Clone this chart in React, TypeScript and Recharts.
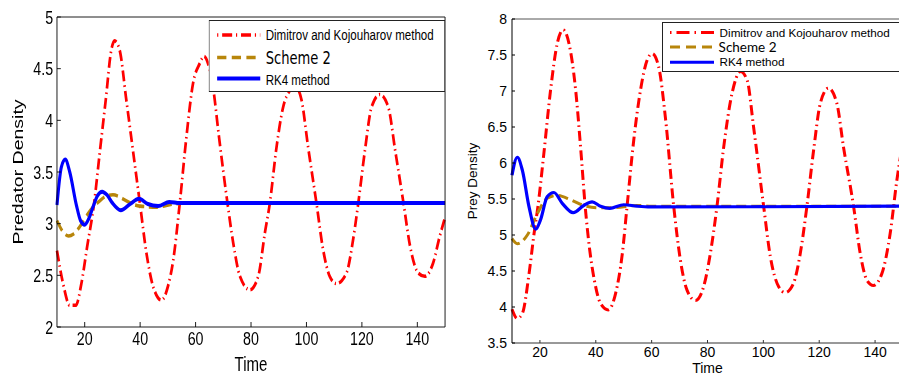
import React from 'react';
import { LineChart, Line, XAxis, YAxis, Legend } from 'recharts';

// shared axis ticks
const timeTicks = [20, 40, 60, 80, 100, 120, 140];
const predatorTicks = [2, 2.5, 3, 3.5, 4, 4.5, 5];
const preyTicks = [3.5, 4, 4.5, 5, 5.5, 6, 6.5, 7, 7.5, 8];

const methodNames = ['Dimitrov and Kojouharov method', 'Scheme 2', 'RK4 method'];
const methodColors = ['#ff0000', '#b8860b', '#0000ff'];

// predator density
const predDkTime = [10, 12.2, 14.6, 16.8, 18.8, 20.9, 23.4, 25.4, 27.6, 29.6, 30.8, 32.6, 35, 37.4, 39.9, 42.3, 44.7, 47.7, 50.1, 51.9, 54.3, 56.7, 59.1, 61.5, 63, 64.5, 66.4, 68.4, 71.5, 73.6, 76, 79.6, 82.6, 85, 86.8, 89.2, 91.6, 94, 95.5, 97, 98.2, 100.6, 103.6, 106, 108.4, 110.8, 114.4, 116.8, 118.7, 121.1, 123.5, 126.5, 129.5, 132, 135, 137.4, 140.4, 142.7, 145.7, 148.1, 150];
const predDkValue = [2.74, 2.42, 2.21, 2.21, 2.42, 2.78, 3.2, 3.68, 4.2, 4.68, 4.77, 4.68, 4.2, 3.71, 3.2, 2.71, 2.39, 2.26, 2.4, 2.64, 3.2, 3.84, 4.36, 4.55, 4.62, 4.55, 4.3, 3.85, 3.2, 2.81, 2.49, 2.36, 2.49, 2.91, 3.2, 3.74, 4.13, 4.29, 4.34, 4.3, 4.2, 3.74, 3.2, 2.75, 2.49, 2.42, 2.52, 2.84, 3.2, 3.71, 4.13, 4.25, 4.13, 3.71, 3.2, 2.78, 2.52, 2.49, 2.62, 2.88, 3.06];
const predS2Time = [10, 12.2, 14.2, 16, 18.2, 21.8, 25.4, 28, 30.2, 32.5, 34.4, 39.9, 45.9, 51.9, 58, 150];
const predS2Value = [3.03, 2.92, 2.88, 2.9, 2.97, 3.12, 3.22, 3.27, 3.28, 3.26, 3.23, 3.17, 3.16, 3.19, 3.2, 3.2];
const predRkTime = [10, 11.6, 13, 14.6, 17, 18.5, 20, 21.5, 23.1, 24.6, 26.3, 28, 30, 33, 36.4, 39.6, 42.8, 46.5, 50.5, 54.3, 58, 150];
const predRkValue = [3.18, 3.55, 3.62, 3.5, 3.18, 3.03, 2.99, 3.05, 3.17, 3.27, 3.31, 3.28, 3.2, 3.13, 3.19, 3.24, 3.19, 3.17, 3.21, 3.2, 3.2, 3.2];

// prey density
const preyDkTime = [10, 11.9, 13.7, 16.1, 17.9, 19.3, 21.4, 23.8, 26.2, 28.3, 30.4, 32.8, 34.6, 36.2, 37.8, 39.5, 41.7, 44.5, 47.1, 49.5, 51.2, 53.6, 56, 58.4, 60.2, 62.5, 64.9, 67.9, 70.3, 72.7, 75.7, 78.6, 81, 83.4, 85.8, 88.8, 91.8, 94.2, 96.5, 100.1, 102.5, 105.5, 107.8, 110.8, 113.2, 115.6, 118, 120.4, 123.3, 126.3, 128.7, 132.3, 134.7, 137.1, 139.4, 142.4, 145.4, 147.8, 150];
const preyDkValue = [3.97, 3.84, 3.91, 4.46, 5.02, 5.4, 6.13, 7.01, 7.66, 7.85, 7.66, 7.01, 6.2, 5.4, 4.8, 4.37, 4.05, 3.96, 4.19, 4.74, 5.4, 6.32, 7.01, 7.43, 7.52, 7.34, 6.64, 5.4, 4.65, 4.23, 4.09, 4.28, 4.74, 5.4, 6.22, 6.97, 7.27, 7.15, 6.5, 5.4, 4.7, 4.28, 4.2, 4.33, 4.74, 5.4, 6.18, 6.83, 7.04, 6.83, 6.22, 5.4, 4.74, 4.37, 4.3, 4.46, 5.02, 5.76, 6.3];
const preyS2Time = [10, 11.9, 15.5, 19.1, 22.6, 26.2, 31, 35.7, 40.5, 46.5, 54.8, 60, 150];
const preyS2Value = [4.95, 4.88, 5.0, 5.3, 5.51, 5.55, 5.49, 5.41, 5.38, 5.38, 5.41, 5.4, 5.4];
const preyRkTime = [10, 11.9, 13.7, 16.1, 18.5, 20.2, 22.6, 25, 28, 31.9, 35.7, 38.7, 41.7, 45, 50, 54.8, 59.5, 150];
const preyRkValue = [5.83, 6.08, 5.9, 5.39, 5.08, 5.21, 5.53, 5.59, 5.44, 5.31, 5.41, 5.46, 5.4, 5.37, 5.42, 5.4, 5.39, 5.4];

const pts = (t: number[], v: number[]) => t.map((x, i) => ({ t: x, v: v[i] }));

const ARIAL = 'Liberation Sans, Arial, Helvetica, sans-serif';
const SQUEEZE = 0.77; // left figure is horizontally compressed in the source

type LegendStyle = {
  width: number;
  height: number;
  x1: number;
  x2: number;
  textX: number[];
  lineY: number[];
  textY: number[];
  fonts: string[];
  sizes: number[];
  strokes: number[];
  dashes: (string | undefined)[];
};

function MethodLegend({ s }: { s: LegendStyle }) {
  return (
    <svg width={s.width} height={s.height} style={{ display: 'block', background: '#fff' }}>
      <rect x={0.5} y={0.5} width={s.width - 1} height={s.height - 1} fill="#fff" stroke="#222" strokeWidth={1} />
      {methodNames.map((name, i) => (
        <g key={name}>
          <line x1={s.x1} x2={s.x2} y1={s.lineY[i]} y2={s.lineY[i]} stroke={methodColors[i]} strokeWidth={s.strokes[i]} strokeDasharray={s.dashes[i]} />
          <text x={s.textX[i]} y={s.textY[i]} fontSize={s.sizes[i]} fontFamily={s.fonts[i]} fill="#000">
            {name}
          </text>
        </g>
      ))}
    </svg>
  );
}

function yTitle(text: string, cx: number, size: number) {
  return (props: any) => {
    const vb = props.viewBox;
    const cy = vb.y + vb.height / 2;
    return (
      <text x={cx} y={cy} transform={`rotate(-90 ${cx} ${cy})`} textAnchor="middle" dominantBaseline="central" fontSize={size} fontFamily={ARIAL} fill="#000">
        {text}
      </text>
    );
  };
}

function xTitle(text: string, base: number, size: number) {
  return (props: any) => {
    const vb = props.viewBox;
    return (
      <text x={vb.x + vb.width / 2} y={base} textAnchor="middle" fontSize={size} fontFamily={ARIAL} fill="#000">
        {text}
      </text>
    );
  };
}

const predLegend: LegendStyle = {
  width: 307,
  height: 72,
  x1: 11,
  x2: 67,
  textX: [74, 74, 74],
  lineY: [15, 37.5, 58.5],
  textY: [20.5, 44, 65],
  fonts: [ARIAL, 'DejaVu Sans, sans-serif', ARIAL],
  sizes: [15, 17, 15],
  strokes: [3.5, 3.5, 4],
  dashes: ['1.5 5 13 5', '12 7', undefined],
};

const preyLegend: LegendStyle = {
  width: 250,
  height: 50,
  x1: 8,
  x2: 52,
  textX: [57.6, 56.6, 57.6],
  lineY: [10.6, 25, 40.3],
  textY: [14.6, 29.6, 44],
  fonts: [ARIAL, 'Lato, sans-serif', ARIAL],
  sizes: [11.7, 13.5, 11.7],
  strokes: [3, 3, 3],
  dashes: ['1.5 5 13 5', '10 6', undefined],
};

function PredatorChart() {
  const tick = { fill: '#000', fontSize: 18.5, fontFamily: ARIAL };
  return (
    <div style={{ position: 'absolute', left: 0, top: 0, width: 584, height: 376, transform: `scaleX(${SQUEEZE})`, transformOrigin: '0 0' }}>
      <LineChart width={584} height={376} margin={{ top: 16, right: 5, bottom: 0, left: 0 }}>
        <XAxis dataKey="t" type="number" domain={[10, 150]} ticks={timeTicks} height={49} tickSize={-5} tickMargin={10} stroke="#000" tick={tick}
          label={{ value: 'Time', content: xTitle('Time', 371, 19.5) }} />
        <XAxis xAxisId="top" orientation="top" dataKey="t" type="number" domain={[10, 150]} ticks={timeTicks} height={1} tickSize={-5} stroke="#000" tickFormatter={() => ''} />
        <YAxis type="number" domain={[2, 5]} ticks={predatorTicks} width={74} tickSize={-5} tickMargin={10} stroke="#000" tick={tick}
          label={{ value: 'Predator Density', content: yTitle('Predator Density', 23.5, 19.5) }} />
        <YAxis yAxisId="right" orientation="right" type="number" domain={[2, 5]} ticks={predatorTicks} width={1} tickSize={-5} stroke="#000" tickFormatter={() => ''} />
        <Legend layout="horizontal" verticalAlign="middle" align="center"
          wrapperStyle={{ position: 'absolute', left: 270.5, top: 20, width: 307, height: 72 }}
          content={() => <MethodLegend s={predLegend} />} />
        <Line data={pts(predDkTime, predDkValue)} dataKey="v" name={methodNames[0]} type="monotone" stroke={methodColors[0]} strokeWidth={3.5} strokeDasharray="11 4 1.5 4" dot={false} activeDot={false} isAnimationActive={false} />
        <Line data={pts(predS2Time, predS2Value)} dataKey="v" name={methodNames[1]} type="monotone" stroke={methodColors[1]} strokeWidth={3.6} strokeDasharray="12 6" dot={false} activeDot={false} isAnimationActive={false} />
        <Line data={pts(predRkTime, predRkValue)} dataKey="v" name={methodNames[2]} type="monotone" stroke={methodColors[2]} strokeWidth={4} dot={false} activeDot={false} isAnimationActive={false} />
      </LineChart>
    </div>
  );
}

function PreyChart() {
  const tick = { fill: '#000', fontSize: 14, fontFamily: ARIAL };
  return (
    <div style={{ position: 'absolute', left: 450, top: 0, width: 455, height: 376 }}>
      <LineChart width={455} height={376} margin={{ top: 18, right: 1, bottom: 0, left: 0 }}>
        <XAxis dataKey="t" type="number" domain={[10, 150]} ticks={timeTicks} height={33} tickSize={-3} tickMargin={7} stroke="#333" tick={tick}
          label={{ value: 'Time', content: xTitle('Time', 373, 14) }} />
        <XAxis xAxisId="top" orientation="top" dataKey="t" type="number" domain={[10, 150]} ticks={timeTicks} height={1} tickSize={-3} stroke="#555" tickFormatter={() => ''} />
        <YAxis type="number" domain={[3.5, 8]} ticks={preyTicks} width={62} tickSize={-3} tickMargin={8} stroke="#000" tick={tick}
          label={{ value: 'Prey Density', content: yTitle('Prey Density', 22.5, 13.5) }} />
        <YAxis yAxisId="right" orientation="right" type="number" domain={[3.5, 8]} ticks={preyTicks} width={1} tickSize={-3} stroke="#555" tickFormatter={() => ''} />
        <Legend layout="horizontal" verticalAlign="middle" align="center"
          wrapperStyle={{ position: 'absolute', left: 211.7, top: 21.7, width: 250, height: 50 }}
          content={() => <MethodLegend s={preyLegend} />} />
        <Line data={pts(preyDkTime, preyDkValue)} dataKey="v" name={methodNames[0]} type="monotone" stroke={methodColors[0]} strokeWidth={3} strokeDasharray="10 4 1.5 4" dot={false} activeDot={false} isAnimationActive={false} />
        <Line data={pts(preyS2Time, preyS2Value)} dataKey="v" name={methodNames[1]} type="monotone" stroke={methodColors[1]} strokeWidth={3} strokeDasharray="10 5" dot={false} activeDot={false} isAnimationActive={false} />
        <Line data={pts(preyRkTime, preyRkValue)} dataKey="v" name={methodNames[2]} type="monotone" stroke={methodColors[2]} strokeWidth={3.2} dot={false} activeDot={false} isAnimationActive={false} />
      </LineChart>
    </div>
  );
}

export default function App() {
  return (
    <div style={{ position: 'absolute', left: 0, top: 0, width: 899, height: 376, overflow: 'hidden', background: '#fff' }}>
      <PredatorChart />
      <PreyChart />
    </div>
  );
}
